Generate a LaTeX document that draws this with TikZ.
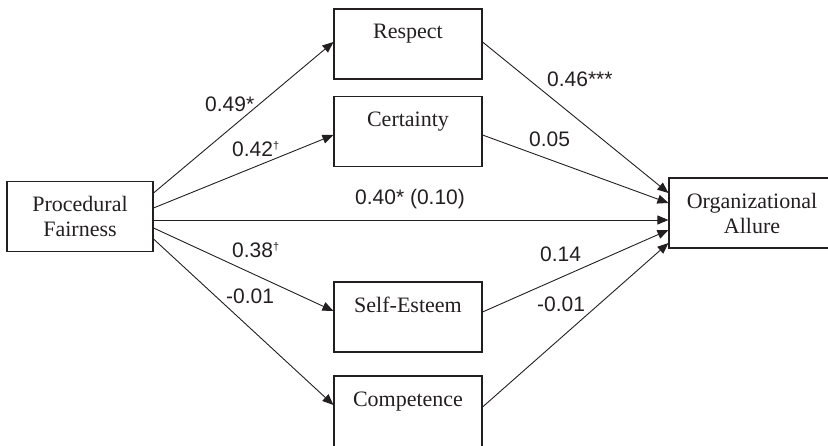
\documentclass[tikz,border=0pt]{standalone}
\usepackage{fontspec}
\setmainfont{Liberation Serif}
\setsansfont{Liberation Sans}
\usepackage{tikz}
\usetikzlibrary{arrows.meta, positioning}
\definecolor{ink}{HTML}{231F20}
\newcommand{\sigdag}{\raisebox{7pt}{\fontsize{11}{11}\selectfont †}}

\begin{document}
\begin{tikzpicture}[x=1pt, y=1pt]
    \tikzstyle{construct} = [rectangle, draw=ink, line width=1.1pt, minimum height=70pt, align=center, inner sep=0pt, text=ink, font=\fontsize{22}{25}\selectfont]
    \tikzstyle{effect} = [-{Triangle[length=11pt, width=9pt]}, draw=ink, line width=0.9pt]
    \tikzstyle{coef} = [anchor=base west, inner sep=0pt, text=ink, font=\sffamily\fontsize{21}{25}\selectfont]

    \useasboundingbox (0,0) rectangle (828,445);

    \node (fairness) [construct, minimum width=146pt] at (80,228.5) {Procedural\\Fairness};
    \node (respect) [construct, minimum width=148pt] at (408,401) {Respect\\\mbox{}};
    \node (certainty) [construct, minimum width=148pt] at (408,313.5) {Certainty\\\mbox{}};
    \node (esteem) [construct, minimum width=148pt] at (408,128) {Self-Esteem\\\mbox{}};
    \node (competence) [construct, minimum width=148pt, minimum height=72pt] at (408,33) {Competence\\\mbox{}};
    \node (allure) [construct, minimum width=166pt] at (752,232) {Organizational\\Allure};

    \draw [effect] ([yshift=23.5]fairness.east) -- ([yshift=2]respect.west);
    \draw [effect] ([yshift=8.5]fairness.east) -- ([yshift=-3.5]certainty.west);
    \draw [effect] ([yshift=-3.5]fairness.east) -- ([yshift=-7]allure.west);
    \draw [effect] ([yshift=-11.5]fairness.east) -- ([yshift=6]esteem.west);
    \draw [effect] ([yshift=-22.5]fairness.east) -- ([yshift=7]competence.west);

    \draw [effect] ([yshift=2]respect.east) -- ([yshift=20]allure.west);
    \draw [effect] ([yshift=-3.5]certainty.east) -- ([yshift=10]allure.west);
    \draw [effect] ([yshift=5]esteem.east) -- ([yshift=-17]allure.west);
    \draw [effect] ([yshift=5]competence.east) -- ([yshift=-30]allure.west);

    \node (c49) [coef] at (205,333) {0.49*};
    \node (c42) [coef] at (232,288) {0.42\sigdag};
    \node (c40) [coef] at (355,240) {0.40* (0.10)};
    \node (c38) [coef] at (232,187) {0.38\sigdag};
    \node (c01a) [coef] at (226,141) {-0.01};
    \node (c46) [coef] at (547,358) {0.46***};
    \node (c05) [coef] at (529,298) {0.05};
    \node (c14) [coef] at (540,183) {0.14};
    \node (c01b) [coef] at (537,133) {-0.01};
\end{tikzpicture}
\end{document}
